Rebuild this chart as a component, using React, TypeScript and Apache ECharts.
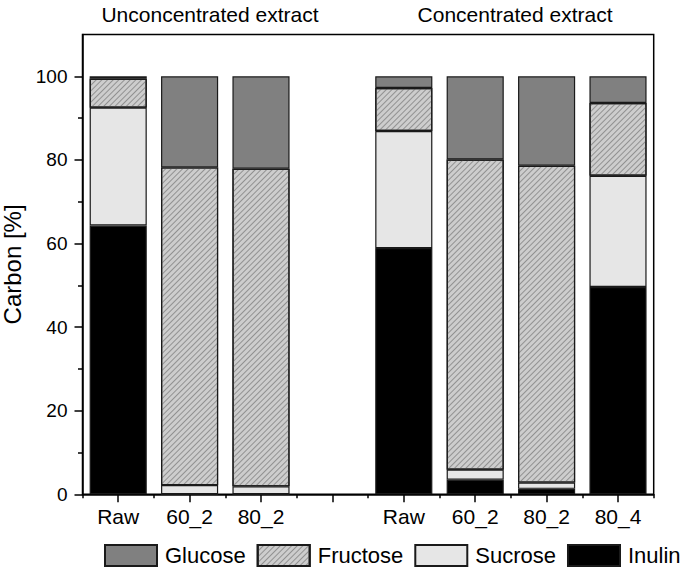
import React, { useEffect, useRef } from "react";
import * as echarts from "echarts";

const categories = ["Raw", "60_2", "80_2", "", "Raw", "60_2", "80_2", "80_4"];
const inulin = [64.3, 0, 0, "-", 58.9, 3.5, 1.3, 49.6];
const sucrose = [28.2, 2.2, 1.9, "-", 28.0, 2.4, 1.5, 26.6];
const fructose = [6.9, 76.0, 76.0, "-", 10.3, 74.2, 75.8, 17.4];
const glucose = [0.6, 21.8, 22.1, "-", 2.8, 19.9, 21.4, 6.4];
const majorYTicks = [0, 20, 40, 60, 80, 100];
const minorYTicks = [10, 30, 50, 70, 90];
const groupTitles = ["Unconcentrated extract", "Concentrated extract"];

const FONT = "'Liberation Sans', Arial, Helvetica, sans-serif";

export default function App() {
  const ref = useRef<HTMLDivElement>(null);
  useEffect(() => {
    document.body.style.margin = "0";
    const chart = echarts.init(ref.current!, null, { renderer: "svg" });
    const border = { borderColor: "#1a1a1a", borderWidth: 1.2 };
    const mk = (name: string, data: any[], itemStyle: any) => ({
      name,
      type: "bar",
      stack: "total",
      barWidth: "80%",
      data,
      itemStyle: { ...border, ...itemStyle },
    });
    chart.setOption({
      animation: false,
      textStyle: { fontFamily: FONT },
      grid: { left: 82.5, right: 31.3, top: 34.5, bottom: 78.7, show: true, borderColor: "#000", borderWidth: 1.5, outerBoundsMode: "none" },
      graphic: [
        { type: "text", x: 210, y: 14, style: { text: groupTitles[0], fontSize: 21, fontFamily: FONT, fill: "#000", align: "center", verticalAlign: "middle" } },
        { type: "text", x: 515, y: 14, style: { text: groupTitles[1], fontSize: 21, fontFamily: FONT, fill: "#000", align: "center", verticalAlign: "middle" } },
      ],
      legend: {
        top: 544,
        left: 104,
        width: 581,
        padding: 0,
        itemWidth: 52,
        itemHeight: 21,
        itemGap: 11,
        icon: "rect",
        data: ["Glucose", "Fructose", "Sucrose", "Inulin"],
        textStyle: { fontSize: 22, color: "#000", fontFamily: FONT, padding: [0, 0, 0, 3] },
      },
      xAxis: [
        {
          type: "category",
          data: categories,
          axisLine: { show: true, lineStyle: { color: "#000", width: 1.5 } },
          axisTick: { show: true, alignWithLabel: true, length: 8, lineStyle: { color: "#000", width: 1.5 } },
          axisLabel: { fontSize: 21, color: "#000", margin: 12, fontFamily: FONT, interval: 0 },
        },
        {
          type: "category",
          data: categories,
          position: "bottom",
          axisLine: { show: false },
          axisTick: { show: true, alignWithLabel: false, length: 4, lineStyle: { color: "#000", width: 1.5 } },
          axisLabel: { show: false },
        },
      ],
      yAxis: [
        {
          type: "value",
          min: 0,
          max: 110,
          name: "Carbon [%]",
          nameLocation: "middle",
          nameGap: 46,
          nameTextStyle: { fontSize: 24, color: "#000", fontFamily: FONT },
          axisLine: { show: true, lineStyle: { color: "#000", width: 1.5 } },
          axisTick: { show: true, length: 8, lineStyle: { color: "#000", width: 1.5 }, customValues: majorYTicks },
          axisLabel: { fontSize: 19, color: "#000", margin: 15, fontFamily: FONT, customValues: majorYTicks },
          splitLine: { show: false },
        },
        {
          type: "value",
          min: 0,
          max: 110,
          position: "left",
          axisLine: { show: false },
          axisTick: { show: true, length: 4.5, lineStyle: { color: "#000", width: 1.5 }, customValues: minorYTicks },
          axisLabel: { show: false },
          splitLine: { show: false },
        },
      ],
      series: [
        mk("Inulin", inulin, { color: "#000000" }),
        mk("Sucrose", sucrose, { color: "#e6e6e6" }),
        mk("Fructose", fructose, {
          color: "#cdcdcd",
          decal: {
            symbol: "rect",
            symbolSize: 1,
            dashArrayX: [1, 0],
            dashArrayY: [1, 3],
            rotation: -Math.PI / 4,
            color: "rgba(120,120,120,0.7)",
          },
        }),
        mk("Glucose", glucose, { color: "#808080" }),
      ],
    });
    return () => chart.dispose();
  }, []);
  return <div ref={ref} style={{ width: 685, height: 573 }} />;
}
